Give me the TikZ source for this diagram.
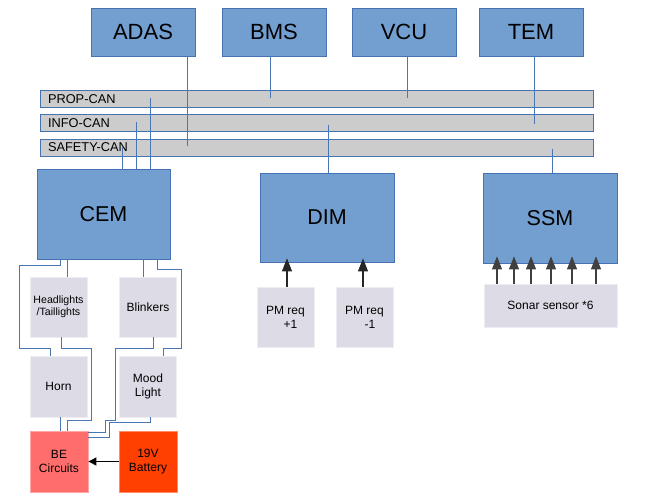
\documentclass[tikz,border=0pt]{standalone}
\usepackage{fontspec}
\setmainfont{Liberation Sans}
\usetikzlibrary{arrows.meta}
\definecolor{boxblue}{HTML}{729FCF}
\definecolor{edgeblue}{HTML}{4672B4}
\definecolor{wireblue}{HTML}{4A76B4}
\definecolor{busgray}{HTML}{CCCCCC}
\definecolor{pale}{HTML}{DDDCE6}
\definecolor{berose}{HTML}{FF6D6D}
\definecolor{batt}{HTML}{FF4000}
\begin{document}
\begin{tikzpicture}[x=1pt,y=-1pt,
 ecu/.style={draw=edgeblue, fill=boxblue, line width=0.8pt, inner sep=0pt},
 topecu/.style={ecu, minimum width=104pt, minimum height=48pt, font=\fontsize{22}{26}\selectfont},
 bigecu/.style={ecu, minimum width=134pt, minimum height=90pt, font=\fontsize{21.5}{26}\selectfont},
 bus/.style={draw=edgeblue, fill=busgray, line width=0.8pt, minimum height=17pt, text width=537pt, inner xsep=8pt, inner ysep=0pt, align=left, font=\fontsize{12.8}{14}\selectfont},
 part/.style={fill=pale, draw=pale!50!white, line width=0.8pt, minimum width=57pt, minimum height=60pt, inner sep=0pt, align=center, font=\fontsize{12}{14}\selectfont},
 tap/.style={draw=wireblue, line width=0.9pt},
 wire/.style={draw=wireblue, line width=0.9pt},
 arr/.style={draw=black!85, line width=1.1pt, -{Triangle[width=10pt,length=13pt]}},
]
\useasboundingbox (0,0) rectangle (669,501);

% top ECUs
\node[topecu] (ADAS) at (143,32) {ADAS};
\node[topecu] (BMS) at (274,32) {BMS};
\node[topecu] (VCU) at (404,32) {VCU};
\node[topecu] (TEM) at (531,32) {TEM};

% buses
\node[bus] (PROP) at (316.5,99.3) {PROP-CAN};
\node[bus] (INFO) at (316.5,123.3) {INFO-CAN};
\node[bus] (SAFE) at (316.5,147.5) {SAFETY-CAN};

% lower ECUs
\node[bigecu, minimum width=133pt] (CEM) at (103.5,214) {CEM};
\node[bigecu, minimum height=89pt] (DIM) at (327,217.5) {DIM};
\node[bigecu] (SSM) at (550,218) {SSM};

% tap x positions
\coordinate (xADAS) at (187.7,0);
\coordinate (xBMS) at (270,0);
\coordinate (xVCU) at (407.7,0);
\coordinate (xTEM) at (534,0);
\coordinate (xC1) at (122.7,0);
\coordinate (xC2) at (136,0);
\coordinate (xC3) at (150,0);
\coordinate (xDIM) at (328,0);
\coordinate (xSSM) at (552,0);

\draw[tap] (xADAS |- ADAS.south) -- ([yshift=1.5pt]xADAS |- SAFE.center);
\draw[tap] (xBMS |- BMS.south) -- ([yshift=1.5pt]xBMS |- PROP.center);
\draw[tap] (xVCU |- VCU.south) -- ([yshift=1.5pt]xVCU |- PROP.center);
\draw[tap] (xTEM |- TEM.south) -- ([yshift=-1pt]xTEM |- INFO.center);
\draw[tap] (xC1 |- CEM.north) -- ([yshift=1pt]xC1 |- SAFE.center);
\draw[tap] (xC2 |- CEM.north) -- ([yshift=1pt]xC2 |- INFO.center);
\draw[tap] (xC3 |- CEM.north) -- ([yshift=1pt]xC3 |- PROP.center);
\draw[tap] (xDIM |- DIM.north) -- ([yshift=-1.5pt]xDIM |- INFO.center);
\draw[tap] (xSSM |- SSM.north) -- ([yshift=-1.5pt]xSSM |- SAFE.center);

% DIM inputs
\node[part] (PMP) at (285.5,317) {PM req\\\hspace*{10pt}+1};
\node[part] (PMM) at (364.5,317) {PM req\\\hspace*{11pt}-1};
\draw[arr, shorten >=-4pt] ([xshift=1.5pt]PMP.north) -- ([xshift=1.5pt]PMP.north |- DIM.south);
\draw[arr, shorten >=-4pt] ([xshift=-1.5pt]PMM.north) -- ([xshift=-1.5pt]PMM.north |- DIM.south);

% SSM inputs
\node[part, minimum width=133pt, minimum height=43pt] (SON) at (550.5,305.5) {Sonar sensor *6};
\foreach \dx [count=\i] in {-53.5,-36.5,-19.5,0.5,21.5,45.5} {
  \draw[arr, draw=black!75, shorten >=-7pt] ([xshift=\dx pt]SON.north) -- ([xshift=\dx pt]SON.north |- SSM.south);
}

% CEM loads
\node[part, font=\fontsize{10.6}{11.5}\selectfont] (HL) at (58.5,307) {Headlights\\/Taillights};
\node[part] (BL) at (148,307) {Blinkers};
\node[part, minimum height=61pt] (HORN) at (58.5,386.5) {Horn};
\node[part, minimum height=61pt] (MOOD) at (148,386.5) {Mood\\Light};
\node[part, minimum width=58pt, minimum height=61pt, fill=berose, draw=berose!60!white] (BE) at (59,461.5) {BE\\Circuits};
\node[part, minimum width=58pt, minimum height=61pt, fill=batt, draw=batt!60!white] (BAT) at (148,461.5) {19V\\Battery};

% wiring
\draw[wire] ([xshift=-42.8pt]CEM.south) -- (60.7,265) -- (19.3,265) -- (19.3,348) -- (50,348) -- ([xshift=-8.5pt]HORN.north);
\draw[wire] ([xshift=-35.8pt]CEM.south) -- ([xshift=9.2pt]HL.north);
\draw[wire] ([xshift=2.5pt]HL.south) -- (61,348) -- (91.7,348) -- (91.7,420) -- (67.7,420) -- ([xshift=8.7pt]BE.north);
\draw[wire] ([xshift=2.2pt]HORN.south) -- ([xshift=1.7pt]BE.north);
\draw[wire] ([xshift=39.5pt]CEM.south) -- ([xshift=-5pt]BL.north);
\draw[wire] ([xshift=53.5pt]CEM.south) -- (157,269) -- (181,269) -- (181,348) -- (163,348) -- ([xshift=15pt]MOOD.north);
\draw[wire] ([xshift=5pt]BL.south) -- (153,348) -- (115.7,348) -- (115.7,420) -- (105.7,420) -- (105.7,432) -- ([yshift=29.5pt]BE.east);
\draw[wire] ([xshift=2pt]MOOD.south) -- (150,422.5) -- (109.5,422.5) -- (109.5,437) -- ([yshift=24.5pt]BE.east);

\draw[draw=black, line width=1pt, -{Triangle[width=8pt,length=8pt]}] (BAT.west) -- (BE.east);
\end{tikzpicture}
\end{document}
